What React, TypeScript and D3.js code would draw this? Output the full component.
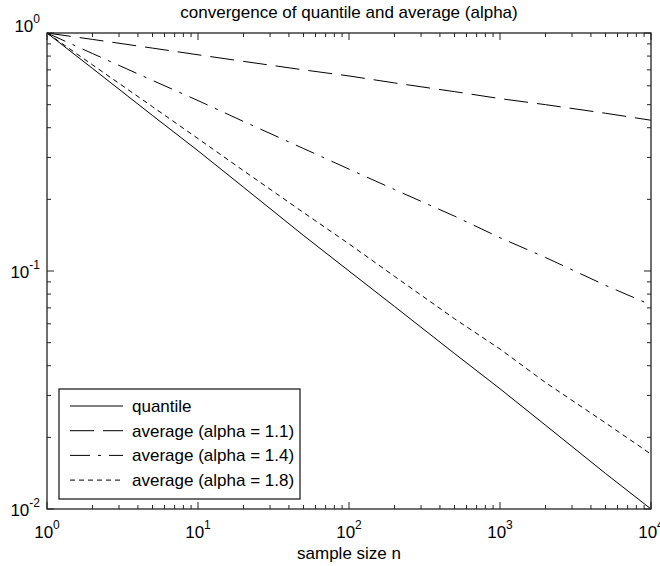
import React from "react";
import * as d3 from "d3";

const sampleSizes = [1, 2, 5, 10, 20, 50, 100, 200, 500, 1000, 2000, 5000, 10000];
const quantileVals = [1, 0.71, 0.45, 0.32, 0.225, 0.141, 0.1, 0.071, 0.045, 0.032, 0.0225, 0.0141, 0.01];
const avg11Vals = [1, 0.94, 0.864, 0.81, 0.76, 0.7, 0.66, 0.617, 0.567, 0.53, 0.5, 0.46, 0.43];
const avg14Vals = [1, 0.82, 0.632, 0.52, 0.425, 0.327, 0.268, 0.22, 0.17, 0.138, 0.114, 0.087, 0.072];
const avg18Vals = [1, 0.735, 0.49, 0.36, 0.264, 0.176, 0.13, 0.095, 0.063, 0.047, 0.034, 0.023, 0.017];

const seriesNames = ["quantile", "average (alpha = 1.1)", "average (alpha = 1.4)", "average (alpha = 1.8)"];
const seriesDash = ["none", "24,9", "20,8,3,8", "5,4"];
const xTickExps = [0, 1, 2, 3, 4];
const yTickExps = [0, -1, -2];
const titleText = "convergence of quantile and average (alpha)";
const xLabelText = "sample size n";

const W = 660, H = 566;
const L = 47, R = 651, T = 33, B = 509;
const FONT = "'Liberation Sans', Arial, sans-serif";
const FS = 17;

export default function App() {
  const x = d3.scaleLog().domain([1, 10000]).range([L, R]);
  const y = d3.scaleLog().domain([0.01, 1]).range([B, T]);
  const allSeries = [quantileVals, avg11Vals, avg14Vals, avg18Vals];
  const line = d3.line<[number, number]>().x((d) => x(d[0])).y((d) => y(d[1]));

  const xMinor: number[] = [];
  for (let e = 0; e < 4; e++) for (let k = 2; k <= 9; k++) xMinor.push(k * Math.pow(10, e));
  const yMinor: number[] = [];
  for (let e = -2; e < 0; e++) for (let k = 2; k <= 9; k++) yMinor.push(k * Math.pow(10, e));

  const major = 7, minor = 4;
  const ax = "#222";

  return (
    <svg width={W} height={H} style={{ position: "fixed", left: 0, top: 0, background: "#fff" }} fontFamily={FONT}>
      <rect x={0} y={0} width={W} height={H} fill="#fff" />
      {/* series */}
      {allSeries.map((vals, i) => (
        <path
          key={i}
          d={line(sampleSizes.map((n, j) => [n, vals[j]] as [number, number])) || ""}
          fill="none"
          stroke="#000"
          strokeWidth={1}
          strokeDasharray={seriesDash[i]}
        />
      ))}
      {/* frame */}
      <rect x={L} y={T} width={R - L} height={B - T} fill="none" stroke={ax} strokeWidth={1.3} />
      {/* x ticks */}
      {xTickExps.map((e) => {
        const px = x(Math.pow(10, e));
        return (
          <g key={"xt" + e}>
            <line x1={px} x2={px} y1={B} y2={B - major} stroke={ax} />
            <line x1={px} x2={px} y1={T} y2={T + major} stroke={ax} />
          </g>
        );
      })}
      {xMinor.map((v, i) => {
        const px = x(v);
        return (
          <g key={"xm" + i}>
            <line x1={px} x2={px} y1={B} y2={B - minor} stroke={ax} />
            <line x1={px} x2={px} y1={T} y2={T + minor} stroke={ax} />
          </g>
        );
      })}
      {yTickExps.map((e) => {
        const py = y(Math.pow(10, e));
        return (
          <g key={"yt" + e}>
            <line x1={L} x2={L + major} y1={py} y2={py} stroke={ax} />
            <line x1={R} x2={R - major} y1={py} y2={py} stroke={ax} />
          </g>
        );
      })}
      {yMinor.map((v, i) => {
        const py = y(v);
        return (
          <g key={"ym" + i}>
            <line x1={L} x2={L + minor} y1={py} y2={py} stroke={ax} />
            <line x1={R} x2={R - minor} y1={py} y2={py} stroke={ax} />
          </g>
        );
      })}
      {/* x tick labels */}
      {xTickExps.map((e) => (
        <text key={"xl" + e} x={x(Math.pow(10, e))} y={538} textAnchor="middle" fontSize={FS} fill="#000">
          10
          <tspan fontSize={12} dy={-9}>{String(e)}</tspan>
        </text>
      ))}
      {/* y tick labels */}
      {yTickExps.map((e) => {
        const py = y(Math.pow(10, e));
        const base = e === 0 ? py - 1 : py + 7;
        return (
          <text key={"yl" + e} x={40} y={base} textAnchor="end" fontSize={FS} fill="#000">
            10
            <tspan fontSize={12} dy={-9}>{String(e)}</tspan>
          </text>
        );
      })}
      {/* title */}
      <text x={(L + R) / 2} y={18} textAnchor="middle" fontSize={FS} fill="#000">{titleText}</text>
      {/* x label */}
      <text x={(L + R) / 2} y={559} textAnchor="middle" fontSize={FS} fill="#000">{xLabelText}</text>
      {/* legend */}
      <g>
        <rect x={59} y={389} width={241} height={110} fill="#fff" stroke={ax} strokeWidth={1.3} />
        {seriesNames.map((name, i) => {
          const ly = 406 + i * 24.7;
          return (
            <g key={"lg" + i}>
              <line x1={70} x2={123} y1={ly} y2={ly} stroke="#000" strokeDasharray={seriesDash[i]} />
              <text x={132} y={ly + 6} fontSize={FS} fill="#000">{name}</text>
            </g>
          );
        })}
      </g>
    </svg>
  );
}
